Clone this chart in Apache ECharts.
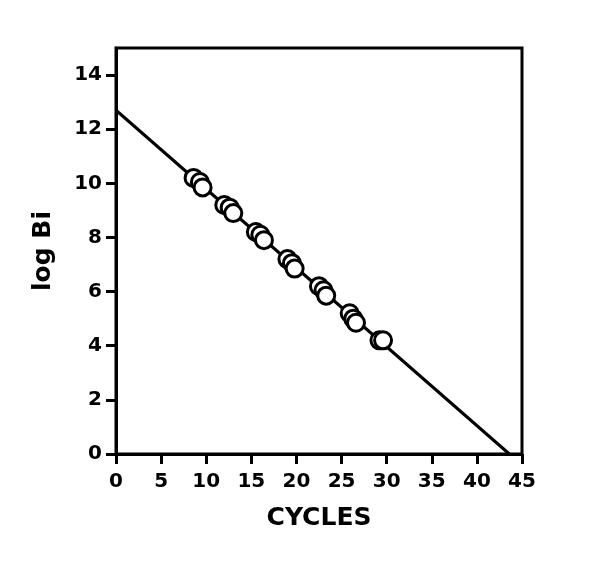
<!DOCTYPE html>
<html lang="en">
<head>
    <meta charset="UTF-8">
    <script src="https://cdn.jsdelivr.net/npm/echarts@6/dist/echarts.min.js"></script>
    <style>body{margin:0;background:#fff;}</style>
</head>
<body>
<div id="main" style="width:600px;height:562px;"></div>
<script type="text/javascript">
    // measured points (cycles, log Bi)
    var cycles = [8.6, 9.3, 9.6, 12.0, 12.6, 13.0, 15.5, 16.0, 16.4, 19.0, 19.5, 19.8, 22.5, 23.0, 23.3, 25.9, 26.3, 26.6, 29.2, 29.6];
    var logBi  = [10.2, 10.05, 9.85, 9.2, 9.1, 8.9, 8.2, 8.1, 7.9, 7.2, 7.05, 6.85, 6.2, 6.05, 5.85, 5.2, 5.0, 4.85, 4.2, 4.2];
    // regression line end points
    var fitX = [0, 43.6];
    var fitY = [12.7, 0];
    var xTicks = [0, 5, 10, 15, 20, 25, 30, 35, 40, 45];
    var yTicks = [0, 2, 4, 6, 8, 10, 12, 14];

    var points = cycles.map(function (c, i) { return [c, logBi[i]]; });
    var fit = fitX.map(function (x, i) { return [x, fitY[i]]; });

    var myChart = echarts.init(document.getElementById('main'));
    var font = 'DejaVu Sans, Arial, sans-serif';
    var option = {
        animation: false,
        grid: {
            left: 116, right: 78, top: 48, bottom: 108,
            show: true, borderColor: '#000', borderWidth: 3
        },
        xAxis: {
            type: 'value', min: 0, max: 45, interval: 5,
            name: 'CYCLES', nameLocation: 'middle', nameGap: 52,
            nameTextStyle: { fontFamily: font, fontWeight: 'bold', fontSize: 25, color: '#000' },
            axisLine: { show: true, lineStyle: { color: '#000', width: 3 } },
            axisTick: { show: true, length: 10, customValues: xTicks, lineStyle: { width: 3, color: '#000' } },
            axisLabel: {
                margin: 18, fontFamily: font, fontWeight: 'bold', fontSize: 20, color: '#000',
                customValues: xTicks
            },
            splitLine: { show: false }
        },
        yAxis: {
            type: 'value', min: 0, max: 15, interval: 1,
            name: 'log Bi', nameLocation: 'middle', nameGap: 60,
            nameTextStyle: { fontFamily: font, fontWeight: 'bold', fontSize: 25, color: '#000' },
            axisLine: { show: true, lineStyle: { color: '#000', width: 3 } },
            axisTick: { show: true, length: 10, customValues: yTicks, lineStyle: { width: 3, color: '#000' } },
            axisLabel: {
                margin: 14, fontFamily: font, fontWeight: 'bold', fontSize: 20, color: '#000',
                customValues: yTicks
            },
            splitLine: { show: false }
        },
        series: [
            {
                type: 'line', data: fit, symbol: 'none', silent: true,
                lineStyle: { color: '#000', width: 3 }, z: 1
            },
            {
                type: 'scatter', data: points, symbol: 'circle', symbolSize: 17,
                itemStyle: { color: '#fff', borderColor: '#000', borderWidth: 3, opacity: 1 }, z: 2
            }
        ]
    };
    myChart.setOption(option);
</script>
</body>
</html>
